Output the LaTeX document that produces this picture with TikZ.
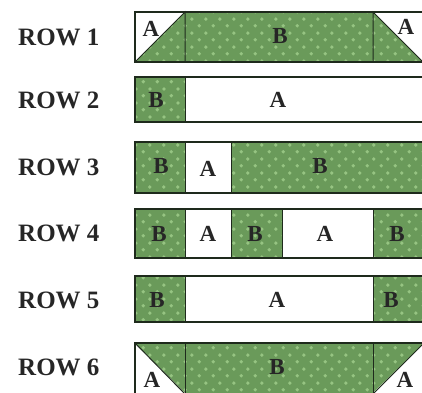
\documentclass[tikz,border=0pt]{standalone}
\usepackage{fontspec}
\setmainfont{Liberation Serif}
\usetikzlibrary{patterns.meta}

\definecolor{fabricgreen}{RGB}{106,154,90}
\definecolor{dotgreen}{RGB}{150,196,130}
\definecolor{seamdark}{RGB}{30,42,28}

\tikzdeclarepattern{
  name=fabricdots,
  type=uncolored,
  bounding box={(0,0) and (14pt,14pt)},
  tile size={(14pt,14pt)},
  code={
    \fill (3.5pt,3.5pt) circle (2pt);
    \fill (10.5pt,10.5pt) circle (2pt);
  }
}

\begin{document}
\begin{tikzpicture}[x=1pt,y=-1pt,
  fabric/.style={fill=fabricgreen, postaction={pattern=fabricdots, pattern color=dotgreen}},
  seam/.style={draw=seamdark, line width=1pt},
  edge/.style={draw=seamdark, line width=1.6pt},
  rowlabel/.style={anchor=west, inner sep=0pt, font=\fontsize{25}{25}\selectfont\bfseries, text=black!85},
  piece/.style={inner sep=0pt, font=\fontsize{23}{23}\selectfont\bfseries, text=black!85}]
\useasboundingbox (0,0) rectangle (422,392);
\clip (0,0) rectangle (422,392);

% Row 1
\fill[fabric] (135,12) rectangle (424,62);
\fill[white] (135,12) -- (185,12) -- (135,62) -- cycle;
\fill[white] (373,12) -- (424,12) -- (424,63) -- cycle;
\draw[seam] (135,62) -- (185,12) -- (185,62);
\draw[seam] (373,62) -- (373,12) -- (423,62);
\draw[edge] (135,12) rectangle (424,62);
\node[rowlabel] (row1) at (18,37) {ROW 1};
\node[piece] (r1a) at (151,29) {A};
\node[piece] (r1b) at (280,36) {B};
\node[piece] (r1c) at (406,27) {A};

% Row 2
\fill[fabric] (135,77) rectangle (185,122);
\fill[white] (185,77) rectangle (424,122);
\draw[seam] (185,77) -- (185,122);
\draw[edge] (135,77) rectangle (424,122);
\node[rowlabel] (row2) at (18,100) {ROW 2};
\node[piece] (r2a) at (156,100) {B};
\node[piece] (r2b) at (278,100) {A};

% Row 3
\fill[fabric] (135,142) rectangle (424,193);
\fill[white] (185,142) rectangle (231,193);
\draw[seam] (185,142) -- (185,193);
\draw[seam] (231,142) -- (231,193);
\draw[edge] (135,142) rectangle (424,193);
\node[rowlabel] (row3) at (18,167) {ROW 3};
\node[piece] (r3a) at (161,166) {B};
\node[piece] (r3b) at (208,169) {A};
\node[piece] (r3c) at (320,166) {B};

% Row 4
\fill[fabric] (135,209) rectangle (424,258);
\fill[white] (185,209) rectangle (231,258);
\fill[white] (282,209) rectangle (373,258);
\foreach \sx in {185,231,282,373}
  \draw[seam] (\sx,209) -- (\sx,258);
\draw[edge] (135,209) rectangle (424,258);
\node[rowlabel] (row4) at (18,233) {ROW 4};
\node[piece] (r4a) at (159,234) {B};
\node[piece] (r4b) at (208,234) {A};
\node[piece] (r4c) at (255,234) {B};
\node[piece] (r4d) at (325,234) {A};
\node[piece] (r4e) at (397,234) {B};

% Row 5
\fill[fabric] (135,276) rectangle (424,322);
\fill[white] (185,276) rectangle (373,322);
\draw[seam] (185,276) -- (185,322);
\draw[seam] (373,276) -- (373,322);
\draw[edge] (135,276) rectangle (424,322);
\node[rowlabel] (row5) at (18,300) {ROW 5};
\node[piece] (r5a) at (157,300) {B};
\node[piece] (r5b) at (277,300) {A};
\node[piece] (r5c) at (391,300) {B};

% Row 6
\fill[fabric] (135,343) rectangle (424,396);
\fill[white] (135,343) -- (135,394) -- (186,394) -- cycle;
\fill[white] (424,343) -- (424,394) -- (372,394) -- cycle;
\draw[seam] (185,394) -- (135,343);
\draw[seam] (185,343) -- (185,394);
\draw[seam] (373,343) -- (373,394);
\draw[seam] (373,394) -- (424,343);
\draw[edge] (135,343) rectangle (424,396);
\node[rowlabel] (row6) at (18,367) {ROW 6};
\node[piece] (r6a) at (152,380) {A};
\node[piece] (r6b) at (277,367) {B};
\node[piece] (r6c) at (405,380) {A};
\end{tikzpicture}
\end{document}
